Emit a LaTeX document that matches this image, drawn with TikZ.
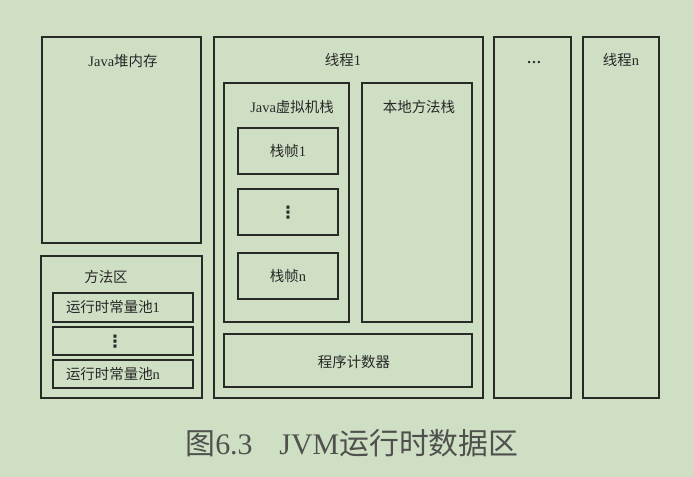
\documentclass[tikz,border=0pt]{standalone}
\usepackage{fontspec}
\setmainfont{Liberation Serif}
\newfontfamily\cjk{Noto Sans CJK SC}
\newfontfamily\djv{DejaVu Sans}
\newcommand{\cj}[1]{{\cjk #1}}
\definecolor{bgc}{RGB}{206,223,196}
\definecolor{linec}{RGB}{40,42,38}
\definecolor{txtc}{RGB}{40,40,40}
\definecolor{capc}{RGB}{80,80,78}
\begin{document}
\begin{tikzpicture}[x=1bp,y=-1bp,
  boxst/.style={draw=linec,line width=1.2bp},
  lbl/.style={text=txtc,font=\fontsize{14.5}{16}\selectfont,inner sep=0pt},
  vd/.style={text=txtc,font=\djv\bfseries\fontsize{17}{18}\selectfont,inner sep=0pt}]
\fill[bgc] (0,0) rectangle (693,477);
\useasboundingbox (0,0) rectangle (693,477);
% Java heap
\draw[boxst] (42,37) rectangle (201,243);
\node[lbl] (heap) at (123,61) {Java\cj{堆内存}};
% method area
\draw[boxst] (41,256) rectangle (202,398);
\node[lbl] (ma) at (106,277) {\cj{方法区}};
\draw[boxst] (53,293) rectangle (193,322);
\node[lbl] (rc1) at (113,307.5) {\cj{运行时常量池}1};
\draw[boxst] (53,327) rectangle (193,355);
\node[vd] (rcd) at (115,342) {⋮};
\draw[boxst] (53,360) rectangle (193,388);
\node[lbl] (rcn) at (113,374) {\cj{运行时常量池}n};
% thread 1
\draw[boxst] (214,37) rectangle (483,398);
\node[lbl] (t1) at (343,60) {\cj{线程}1};
\draw[boxst] (224,83) rectangle (349,322);
\node[lbl] (jvs) at (292,107) {Java\cj{虚拟机栈}};
\draw[boxst] (362,83) rectangle (472,322);
\node[lbl] (nms) at (419,107) {\cj{本地方法栈}};
\draw[boxst] (238,128) rectangle (338,174);
\node[lbl] (f1) at (288,151) {\cj{栈帧}1};
\draw[boxst] (238,189) rectangle (338,235);
\node[vd] (fd) at (288,213) {⋮};
\draw[boxst] (238,253) rectangle (338,299);
\node[lbl] (fn) at (288,276) {\cj{栈帧}n};
\draw[boxst] (224,334) rectangle (472,387);
\node[lbl] (pc) at (354,362) {\cj{程序计数器}};
% dots
\draw[boxst] (494,37) rectangle (571,398);
\node[lbl] (dots) at (534,63) {\textbf{\ldots}};
% thread n
\draw[boxst] (583,37) rectangle (659,398);
\node[lbl] (tn) at (621,60) {\cj{线程}n};
% caption
\node[text=capc,font=\fontsize{30}{33}\selectfont,inner sep=0pt] (cap) at (352,443) {\cj{图}6.3\hspace{0.9em}JVM\cj{运行时数据区}};
\end{tikzpicture}
\end{document}
